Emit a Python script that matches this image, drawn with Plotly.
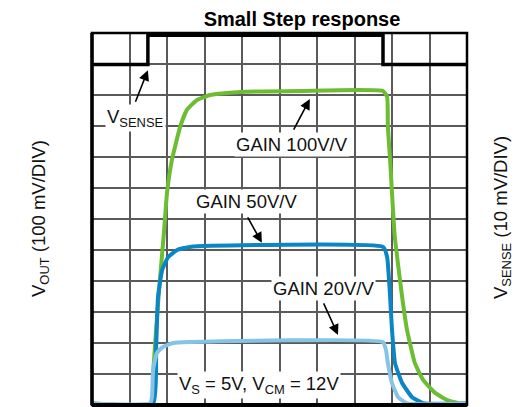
import plotly.graph_objects as go

# scope screen: x and y are in divisions (10 x 12 grid)
t_sense = [0, 1.49, 1.49, 7.76, 7.76, 10]
v_sense = [10.98, 10.98, 11.93, 11.93, 10.98, 10.98]

t_g100 = [0, 1.59, 1.63, 1.71, 1.81, 1.92, 2.00, 2.13, 2.35, 2.53, 2.80, 3.15, 3.95, 5.55,
          7.76, 7.87, 7.89, 7.95, 8.00, 8.07, 8.16, 8.27, 8.40, 8.61, 8.83, 9.15, 9.47, 9.81, 10]
v_g100 = [0.05, 0.05, 1.03, 2.42, 4.03, 5.58, 6.84, 7.90, 8.97, 9.52, 9.84, 10.00, 10.10, 10.13,
          10.13, 9.94, 8.97, 7.90, 6.84, 5.48, 4.55, 3.48, 2.42, 1.35, 0.81, 0.39, 0.16, 0.05, 0.05]

t_g50 = [0, 1.63, 1.71, 1.76, 1.87, 2.03, 2.27, 2.61, 7.76, 7.87, 7.95, 8.00, 8.08, 8.27, 8.53, 8.83, 10]
v_g50 = [0.05, 0.05, 1.87, 3.48, 4.35, 4.77, 5.00, 5.10, 5.10, 4.77, 3.48, 2.42, 1.35, 0.71, 0.26, 0.06, 0.05]

t_g20 = [0, 1.55, 1.60, 1.63, 1.73, 1.89, 2.16, 2.61, 7.76, 7.84, 7.89, 8.00, 8.16, 8.40, 10]
v_g20 = [0.05, 0.05, 0.26, 1.13, 1.68, 1.87, 2.00, 2.03, 2.03, 1.77, 1.35, 0.71, 0.26, 0.05, 0.05]

FONT = "Arial, Liberation Sans, sans-serif"

fig = go.Figure()
fig.add_trace(go.Scatter(x=t_g100, y=v_g100, mode='lines', name='GAIN 100V/V',
                         line=dict(color='#6cbd32', width=4, shape='spline', smoothing=0.4)))
fig.add_trace(go.Scatter(x=t_g50, y=v_g50, mode='lines', name='GAIN 50V/V',
                         line=dict(color='#0a86c6', width=4, shape='spline', smoothing=0.4)))
fig.add_trace(go.Scatter(x=t_g20, y=v_g20, mode='lines', name='GAIN 20V/V',
                         line=dict(color='#86c4e6', width=4, shape='spline', smoothing=0.4)))
fig.add_trace(go.Scatter(x=t_sense, y=v_sense, mode='lines', name='VSENSE',
                         line=dict(color='black', width=3.5)))

fig.update_xaxes(range=[0, 10], dtick=1, showgrid=True, gridcolor='#5a5a5a', gridwidth=1.5,
                 showticklabels=False, zeroline=False, ticks='', fixedrange=True)
fig.update_yaxes(range=[0, 12], dtick=1, showgrid=True, gridcolor='#5a5a5a', gridwidth=1.5,
                 showticklabels=False, zeroline=False, ticks='', fixedrange=True)

# frame: thin top/right, heavier left/bottom
fig.add_shape(type='rect', xref='paper', yref='paper', x0=0, y0=0, x1=1, y1=1,
              line=dict(color='black', width=2.5))
fig.add_shape(type='line', xref='paper', yref='paper', x0=0, y0=0, x1=0, y1=1,
              line=dict(color='black', width=3.5))
fig.add_shape(type='line', xref='paper', yref='paper', x0=0, y0=0, x1=1, y1=0,
              line=dict(color='black', width=4))

labels = [
    ("V<sub>SENSE</sub>", 1.17, 9.26),
    ("GAIN 100V/V", 5.33, 8.39),
    ("GAIN 50V/V", 4.13, 6.55),
    ("GAIN 20V/V", 6.16, 3.77),
    ("V<sub>S</sub> = 5V, V<sub>CM</sub> = 12V", 4.45, 0.65),
]
for txt, x, y in labels:
    fig.add_annotation(x=x, y=y, text=txt, showarrow=False, bgcolor='white', borderpad=1,
                       font=dict(family=FONT, size=18.5, color='#111'))

# arrows: head position in divisions, tail offset in pixels
arrows = [
    (1.49, 10.80, -13, 33),
    (5.81, 9.87, -17, 32),
    (4.53, 5.23, -15, -27),
    (6.56, 2.26, -15, -33),
]
for x, y, ax, ay in arrows:
    fig.add_annotation(x=x, y=y, ax=ax, ay=ay, text='', showarrow=True, arrowhead=2,
                       arrowsize=1.3, arrowwidth=1.6, arrowcolor='black', standoff=0)

fig.add_annotation(xref='paper', yref='paper', x=-0.176, y=0.5, textangle=-90, showarrow=False,
                   text="V<sub>OUT</sub> (100 mV/DIV)", font=dict(family=FONT, size=18.5, color='#111'))
fig.add_annotation(xref='paper', yref='paper', x=1.131, y=0.503, textangle=-90, showarrow=False,
                   text="V<sub>SENSE</sub> (10 mV/DIV)", font=dict(family=FONT, size=18.5, color='#111'))

# the page body adds an 8 px offset, so the figure is 8 px smaller on each side
fig.update_layout(
    width=524, height=399,
    title=dict(text="<b>Small Step response</b>", x=294 / 524, xanchor='center',
               y=1 - 11 / 399, yanchor='middle', font=dict(family=FONT, size=20, color='black')),
    margin=dict(l=84, r=65, t=25, b=2),
    showlegend=False,
    plot_bgcolor='white', paper_bgcolor='white',
)

fig.write_html("out.html")
